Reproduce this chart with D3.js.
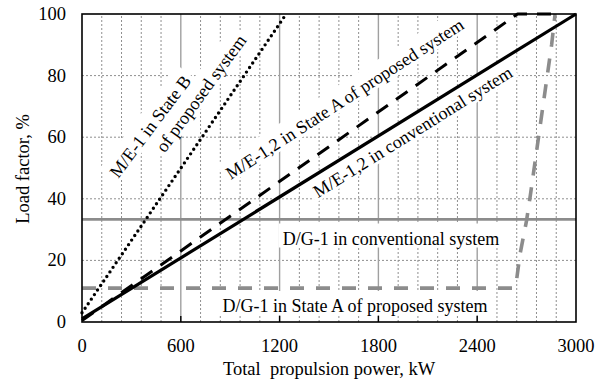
<!DOCTYPE html>
<meta charset="utf-8">
<html>
<head>
<title>Load factor vs propulsion power</title>
<script src="https://cdn.jsdelivr.net/npm/d3@7"></script>
<style>
body { margin: 0; background: #fff; }
text { font-family: "Liberation Serif", "Times New Roman", serif; fill: #000; }
</style>
</head>
<body>
<div id="chart"></div>
<script type="text/javascript">
// axis ticks
var xTicks = [0, 600, 1200, 1800, 2400, 3000];
var yTicks = [0, 20, 40, 60, 80, 100];

// M/E-1,2 in conventional system
var meConvKW = [0, 3000];
var meConvLF = [1, 100];
// M/E-1,2 in State A of proposed system
var meStateAKW = [0, 2645, 2885];
var meStateALF = [0.5, 100, 100];
// M/E-1 in State B of proposed system
var meStateBKW = [0, 1240];
var meStateBLF = [3, 100];
// D/G-1 in conventional system
var dgConvKW = [0, 3000];
var dgConvLF = [33.3, 33.3];
// D/G-1 in State A of proposed system
var dgStateAKW = [0, 2620, 2640, 2660, 2700, 2725, 2852, 2873];
var dgStateALF = [11, 11, 14, 22, 33, 42, 90, 100];

var width = 606, height = 382;
var svg = d3.select("#chart").append("svg")
    .attr("width", width).attr("height", height);

var x = d3.scaleLinear().domain([0, 3000]).range([82, 576]);
var y = d3.scaleLinear().domain([0, 100]).range([322, 14]);

var grid = svg.append("g");
// minor dotted grid every 120 kW and every 20 %
grid.selectAll(".vminor")
    .data(d3.range(120, 3000, 120).filter(function (d) { return d % 600 !== 0; }))
    .enter().append("line")
    .attr("x1", function (d) { return x(d); }).attr("x2", function (d) { return x(d); })
    .attr("y1", y(0)).attr("y2", y(100))
    .style("stroke", "#8f8f8f").style("stroke-width", 1).style("stroke-dasharray", "2,2");
grid.selectAll(".hminor")
    .data(yTicks.slice(1, -1))
    .enter().append("line")
    .attr("x1", x(0)).attr("x2", x(3000))
    .attr("y1", function (d) { return y(d); }).attr("y2", function (d) { return y(d); })
    .style("stroke", "#8f8f8f").style("stroke-width", 1).style("stroke-dasharray", "2,2");
// major vertical grid
grid.selectAll(".vmajor")
    .data(xTicks.slice(1, -1))
    .enter().append("line")
    .attr("x1", function (d) { return x(d); }).attr("x2", function (d) { return x(d); })
    .attr("y1", y(0)).attr("y2", y(100))
    .style("stroke", "#a0a0a0").style("stroke-width", 1.4);

// annotation labels (white boxes hide the grid)
var labels = [
  { t: "M/E-1 in State B", cx: 155, cy: 130, a: -53 },
  { t: "of proposed system", cx: 206, cy: 97, a: -54 },
  { t: "M/E-1,2 in State A of proposed system", cx: 348, cy: 104, a: -33 },
  { t: "M/E-1,2 in conventional system", cx: 416, cy: 137, a: -32 },
  { t: "D/G-1 in conventional system", cx: 391, cy: 244.5, a: 0 },
  { t: "D/G-1 in State A of proposed system", cx: 355, cy: 312, a: 0 }
];
var boxLayer = svg.append("g");
var dataLayer = svg.append("g");
var textLayer = svg.append("g");

labels.forEach(function (l) {
  var gb = boxLayer.append("g").attr("transform", "translate(" + l.cx + "," + l.cy + ") rotate(" + l.a + ")");
  var gt = textLayer.append("g").attr("transform", "translate(" + l.cx + "," + l.cy + ") rotate(" + l.a + ")");
  var tx = gt.append("text").attr("text-anchor", "middle").style("font-size", "18px").text(l.t);
  var bb = tx.node().getBBox();
  gb.append("rect")
    .attr("x", bb.x - 4).attr("y", bb.y - 5)
    .attr("width", bb.width + 8).attr("height", bb.height + 4)
    .style("fill", "#fff");
});

// series
function draw(kw, lf, color, w, dash, cap) {
  var pts = kw.map(function (d, i) { return [d, lf[i]]; });
  var line = d3.line().x(function (d) { return x(d[0]); }).y(function (d) { return y(d[1]); });
  dataLayer.append("path").datum(pts).attr("d", line)
    .style("fill", "none").style("stroke", color).style("stroke-width", w)
    .style("stroke-dasharray", dash).style("stroke-linecap", cap || "butt")
    .style("stroke-linejoin", "round");
}
draw(dgConvKW, dgConvLF, "#8c8c8c", 2.8, null);
draw(dgStateAKW, dgStateALF, "#8c8c8c", 3.6, "14,12");
draw(meStateBKW, meStateBLF, "#000", 3.4, "0,5.5", "round");
draw(meStateAKW, meStateALF, "#000", 3, "14,10");
draw(meConvKW, meConvLF, "#000", 3.2, null);

// frame and ticks
svg.append("rect")
    .attr("x", x(0)).attr("y", y(100))
    .attr("width", x(3000) - x(0)).attr("height", y(0) - y(100))
    .style("fill", "none").style("stroke", "#000").style("stroke-width", 1.6);
svg.selectAll(".xtick")
    .data(xTicks.slice(1, -1))
    .enter().append("line")
    .attr("x1", function (d) { return x(d); }).attr("x2", function (d) { return x(d); })
    .attr("y1", y(0)).attr("y2", y(0) - 6)
    .style("stroke", "#000").style("stroke-width", 1.4);

svg.selectAll(".xlab")
    .data(xTicks)
    .enter().append("text")
    .attr("x", function (d) { return x(d); })
    .attr("y", 352)
    .attr("text-anchor", "middle")
    .style("font-size", "18.5px")
    .text(function (d) { return d; });
svg.selectAll(".ylab")
    .data(yTicks)
    .enter().append("text")
    .attr("x", 66)
    .attr("y", function (d) { return y(d) + 6; })
    .attr("text-anchor", "end")
    .style("font-size", "18.5px")
    .text(function (d) { return d; });

svg.append("text")
    .attr("x", 329).attr("y", 375)
    .attr("text-anchor", "middle")
    .style("font-size", "18.5px")
    .style("white-space", "pre")
    .text("Total  propulsion power, kW");
svg.append("text")
    .attr("transform", "translate(29,169) rotate(-90)")
    .attr("text-anchor", "middle")
    .style("font-size", "18.5px")
    .text("Load factor, %");
</script>
</body>
</html>
